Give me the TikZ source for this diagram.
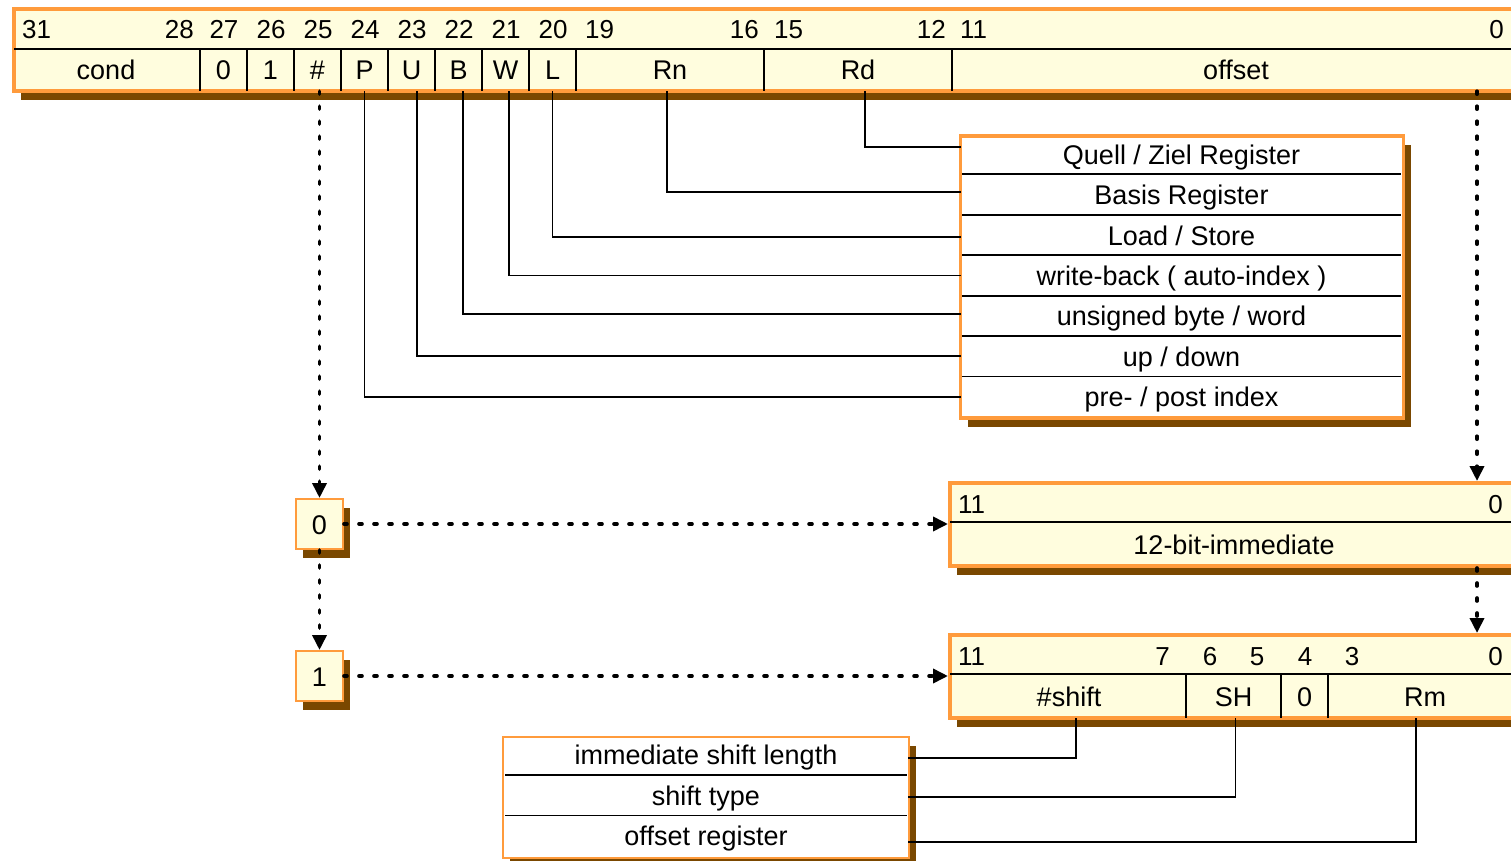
\documentclass[tikz,border=0pt]{standalone}
\usepackage{fontspec}
\setmainfont{Liberation Sans}
\usetikzlibrary{arrows.meta,shadows}

\definecolor{cellfill}{RGB}{255,253,222}
\definecolor{frameorange}{RGB}{255,155,60}
\definecolor{shadowbrown}{RGB}{122,72,0}

\tikzset{
  labelfont/.style={font=\fontsize{27}{31}\selectfont, text height=24pt, text depth=4pt},
  bitfont/.style={font=\fontsize{26}{30}\selectfont, text height=21pt, text depth=5pt, inner sep=0pt},
  brownshadow/.style={drop shadow={shadow xshift=7pt,shadow yshift=-9pt,fill=shadowbrown,opacity=1}},
  regframe/.style={draw=frameorange, line width=4pt, fill=cellfill, inner sep=0pt, brownshadow},
  legendframe/.style={draw=frameorange, line width=3.5pt, fill=white, inner sep=0pt, brownshadow},
  selframe/.style={draw=frameorange, line width=2pt, fill=cellfill, inner sep=0pt, brownshadow,
                   labelfont, minimum width=47pt, minimum height=50pt},
  field/.style={labelfont, inner sep=0pt, minimum height=42pt},
  rowlabel/.style={labelfont, inner sep=0pt},
  divider/.style={line width=1.8pt},
  lead/.style={line width=1.8pt},
  flow/.style={line width=3.6pt, dash pattern=on 3pt off 12pt, line cap=round,
               -{Triangle[length=15pt,width=14pt]}},
}

\begin{document}
\begin{tikzpicture}[x=1pt,y=-1pt]
\useasboundingbox (0,0) rectangle (1511,861);
\clip (0,0) rectangle (1511,861);

% ---------------- 32-bit instruction word ----------------
\node[regframe, minimum width=1516pt, minimum height=82pt] (reg) at (772,50) {};
\draw[divider] (14,49) -- (1530,49);
\foreach \x in {200,247,294,341,388,435,482,529,576,764,952}
  \draw[divider] (\x,49) -- (\x,91);

\node[bitfont, anchor=west] (n31) at (22,31) {31};
\node[bitfont, anchor=east] (n28) at (194,31) {28};
\node[bitfont] (n27) at (224,31) {27};
\node[bitfont] (n26) at (271,31) {26};
\node[bitfont] (n25) at (318,31) {25};
\node[bitfont] (n24) at (365,31) {24};
\node[bitfont] (n23) at (412,31) {23};
\node[bitfont] (n22) at (459,31) {22};
\node[bitfont] (n21) at (506,31) {21};
\node[bitfont] (n20) at (553,31) {20};
\node[bitfont, anchor=west] (n19) at (585,31) {19};
\node[bitfont, anchor=east] (n16) at (759,31) {16};
\node[bitfont, anchor=west] (n15) at (774,31) {15};
\node[bitfont, anchor=east] (n12) at (946,31) {12};
\node[bitfont, anchor=west] (n11) at (960,31) {11};
\node[bitfont, anchor=east] (n0) at (1504,31) {0};

\node[field, minimum width=188pt] (fCond) at (106,70) {cond};
\node[field, minimum width=47pt] (fB27) at (223.5,70) {0};
\node[field, minimum width=47pt] (fB26) at (270.5,70) {1};
\node[field, minimum width=47pt] (fHash) at (317.5,70) {\#};
\node[field, minimum width=47pt] (fP) at (364.5,70) {P};
\node[field, minimum width=47pt] (fU) at (411.5,70) {U};
\node[field, minimum width=47pt] (fB) at (458.5,70) {B};
\node[field, minimum width=47pt] (fW) at (505.5,70) {W};
\node[field, minimum width=47pt] (fL) at (552.5,70) {L};
\node[field, minimum width=188pt] (fRn) at (670,70) {Rn};
\node[field, minimum width=188pt] (fRd) at (858,70) {Rd};
\node[field, minimum width=564pt] (fOff) at (1236,70) {offset};

% ---------------- legend of the control bits ----------------
\node[legendframe, minimum width=443pt, minimum height=282pt] (desc) at (1182,277) {};
\foreach \y in {174.4,214.8,255.2,295.6,336,376.4}
  \draw[divider] (962,\y) -- (1401,\y);
\node[rowlabel, minimum width=440pt, minimum height=40.4pt] (dQuell) at (1181.5,154.2) {Quell / Ziel Register};
\node[rowlabel, minimum width=440pt, minimum height=40.4pt] (dBasis) at (1181.5,194.6) {Basis Register};
\node[rowlabel, minimum width=440pt, minimum height=40.4pt] (dLoad) at (1181.5,235.0) {Load / Store};
\node[rowlabel, minimum width=440pt, minimum height=40.4pt] (dWrite) at (1181.5,275.4) {write-back ( auto-index )};
\node[rowlabel, minimum width=440pt, minimum height=40.4pt] (dByte) at (1181.5,315.8) {unsigned byte / word};
\node[rowlabel, minimum width=440pt, minimum height=40.4pt] (dUp) at (1181.5,356.2) {up / down};
\node[rowlabel, minimum width=440pt, minimum height=40.4pt] (dPre) at (1181.5,396.6) {pre- / post index};

\draw[lead] ([xshift=7pt]fRd.south) |- ([yshift=7pt]dQuell.west);
\draw[lead] ([xshift=-3pt]fRn.south) |- ([yshift=2.6pt]dBasis.west);
\draw[lead] (fL.south) |- ([yshift=-2pt]dLoad.west);
\draw[lead] ([xshift=3.5pt]fW.south) |- (dWrite.west);
\draw[lead] ([xshift=4.5pt]fB.south) |- ([yshift=2pt]dByte.west);
\draw[lead] ([xshift=5.5pt]fU.south) |- (dUp.west);
\draw[lead] (fP.south) |- (dPre.west);

% ---------------- selector boxes ----------------
\node[selframe] (sel0) at (319.5,524) {0};
\node[selframe] (sel1) at (319.5,676) {1};

% ---------------- 12-bit immediate offset ----------------
\node[regframe, minimum width=580pt, minimum height=83pt] (immbox) at (1240,524.5) {};
\draw[divider] (950,522) -- (1530,522);
\node[bitfont, anchor=west] (i11) at (958,505) {11};
\node[bitfont, anchor=east] (i0) at (1503,505) {0};
\node[field, minimum width=564pt, minimum height=44pt] (fImm) at (1234,544) {12-bit-immediate};

% ---------------- shifted register offset ----------------
\node[regframe, minimum width=580pt, minimum height=83pt] (shiftbox) at (1240,676.5) {};
\draw[divider] (950,674) -- (1530,674);
\foreach \x in {1186,1281,1328}
  \draw[divider] (\x,674) -- (\x,718);
\node[bitfont, anchor=west] (s11) at (958,657) {11};
\node[bitfont, anchor=east] (s7) at (1170,657) {7};
\node[bitfont] (s6) at (1210,657) {6};
\node[bitfont] (s5) at (1257,657) {5};
\node[bitfont] (s4) at (1305,657) {4};
\node[bitfont] (s3) at (1352,657) {3};
\node[bitfont, anchor=east] (s0) at (1503,657) {0};
\node[field, minimum width=234pt, minimum height=44pt] (fShift) at (1069,696) {\#shift};
\node[field, minimum width=95pt, minimum height=44pt] (fSH) at (1233.5,696) {SH};
\node[field, minimum width=47pt, minimum height=44pt] (fZero) at (1304.5,696) {0};
\node[field, minimum width=188pt, minimum height=44pt] (fRm) at (1425,696) {Rm};

% ---------------- legend of the shift fields ----------------
\node[legendframe, line width=2.5pt, minimum width=406pt, minimum height=121pt] (shdesc) at (706,797.5) {};
\foreach \y in {775,815.5}
  \draw[divider] (505,\y) -- (907,\y);
\node[rowlabel, minimum width=404pt, minimum height=40.5pt] (lImm) at (706,754.75) {immediate shift length};
\node[rowlabel, minimum width=404pt, minimum height=40.5pt] (lType) at (706,795.25) {shift type};
\node[rowlabel, minimum width=404pt, minimum height=40.5pt] (lReg) at (706,835.75) {offset register};

\draw[lead] ([xshift=7pt]fShift.south) |- ([yshift=-3pt]lImm.east);
\draw[lead] ([xshift=2pt]fSH.south) |- ([yshift=-2pt]lType.east);
\draw[lead] ([xshift=-9pt]fRm.south) |- ([yshift=-6pt]lReg.east);

% ---------------- selection flow ----------------
\coordinate (offTap) at ([xshift=241pt]fOff.south);
\draw[flow] (fHash.south -| sel0.north) -- (sel0.north);
\draw[flow] (sel0.south) -- (sel1.north);
\draw[flow] (sel0.east) -- (sel0.east -| immbox.west);
\draw[flow] (sel1.east) -- (sel1.east -| shiftbox.west);
\draw[flow] (offTap) -- (offTap |- immbox.north);
\draw[flow] (offTap |- immbox.south) -- (offTap |- shiftbox.north);
\end{tikzpicture}
\end{document}
